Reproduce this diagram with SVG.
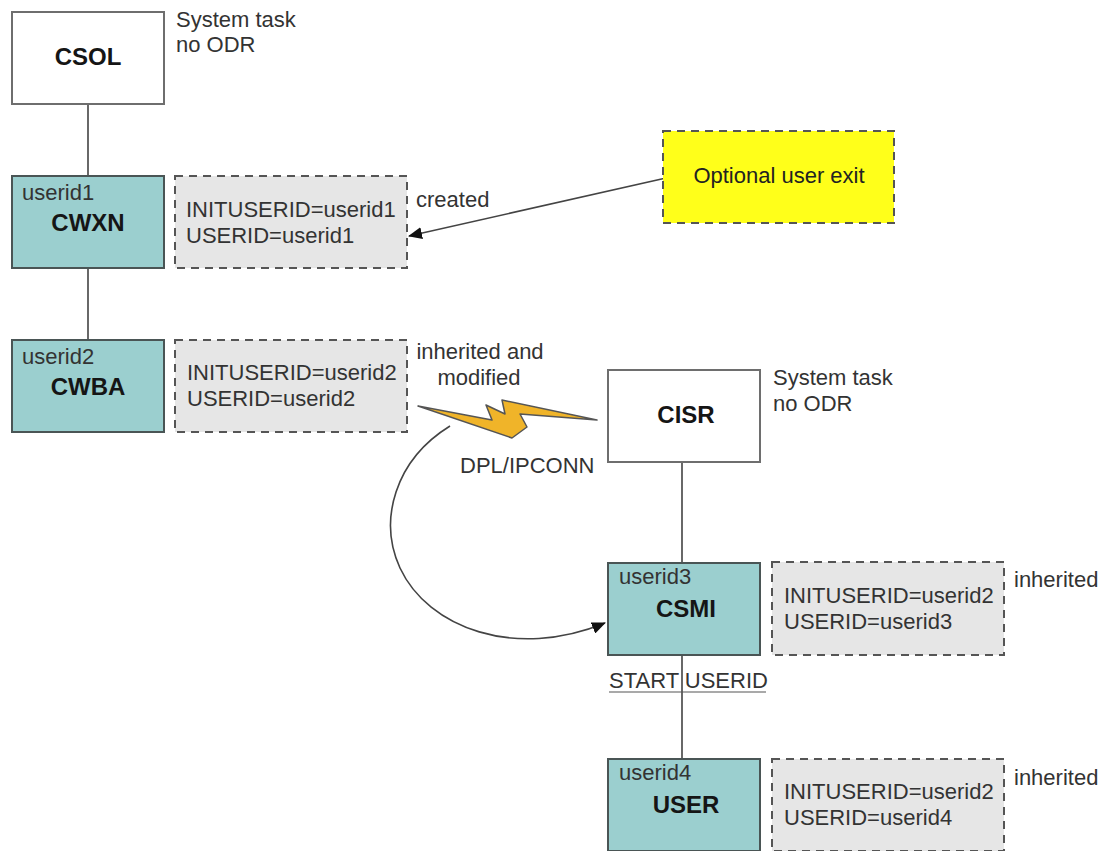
<svg xmlns="http://www.w3.org/2000/svg" width="1103" height="851" viewBox="0 0 1103 851">
<style>
text{font-family:"Liberation Sans",Arial,sans-serif;font-size:22px;fill:#333}
.t{font-weight:bold;font-size:24px;fill:#151515;text-anchor:middle}
.w{fill:#fff;stroke:#6e6e6e;stroke-width:2}
.c{fill:#9bcfcf;stroke:#4a5555;stroke-width:2}
.d{fill:#e6e6e6;stroke:#555;stroke-width:2;stroke-dasharray:8 6}
.l{fill:none;stroke:#444;stroke-width:1.6}
.m{text-anchor:middle}
</style>
<defs>
<marker id="a" markerWidth="14" markerHeight="12" refX="13" refY="6" orient="auto" markerUnits="userSpaceOnUse"><path d="M0 0L14 6L0 12Z" fill="#111"/></marker>
</defs>
<rect width="1103" height="851" fill="#fff"/>
<g id="connectors">
<path class="l" d="M88 104V176M88 268V340M682 462V562M682 655V759"/>
<path class="l" d="M666 178L409 236" marker-end="url(#a)"/>
<path class="l" d="M450 426C395 460 378 520 400 568C428 628 515 660 605 623" marker-end="url(#a)"/>
<path d="M609 692H766" fill="none" stroke="#555" stroke-width="1.2"/>
</g>
<g id="bolt"><path d="M418 406L492 420L486 405L505 414L502 400L597 420L520 414L527 427L512 438Z" fill="#f0b429" stroke="#555" stroke-width="1.5" stroke-linejoin="round"/></g>
<g id="CSOL"><rect class="w" x="12" y="12" width="152" height="92"/><text class="t" x="88" y="65">CSOL</text><text x="176" y="27">System task</text><text x="176" y="52">no ODR</text></g>
<g id="CWXN"><rect class="c" x="12" y="176" width="152" height="92"/><text x="22" y="200">userid1</text><text class="t" x="88" y="231">CWXN</text></g>
<g id="CWXN-info"><rect class="d" x="175" y="176" width="232" height="92"/><text x="186" y="217">INITUSERID=userid1</text><text x="186" y="243">USERID=userid1</text></g>
<g id="exit"><rect x="663" y="131" width="231" height="92" fill="#ffff1a" stroke="#555" stroke-width="2" stroke-dasharray="8 6"/><text class="m" x="779" y="183" style="fill:#222">Optional user exit</text></g>
<text x="416" y="207">created</text>
<g id="CWBA"><rect class="c" x="12" y="340" width="152" height="92"/><text x="22" y="364">userid2</text><text class="t" x="88" y="395">CWBA</text></g>
<g id="CWBA-info"><rect class="d" x="175" y="340" width="232" height="92"/><text x="187" y="380">INITUSERID=userid2</text><text x="187" y="406">USERID=userid2</text></g>
<text class="m" x="480" y="359">inherited and</text>
<text class="m" x="479" y="385">modified</text>
<text x="460" y="473">DPL/IPCONN</text>
<g id="CISR"><rect class="w" x="608" y="370" width="152" height="92"/><text class="t" x="686" y="423">CISR</text><text x="773" y="385">System task</text><text x="773" y="411">no ODR</text></g>
<g id="CSMI"><rect class="c" x="608" y="563" width="152" height="92"/><text x="619" y="584">userid3</text><text class="t" x="686" y="617">CSMI</text></g>
<g id="CSMI-info"><rect class="d" x="772" y="562" width="232" height="93"/><text x="784" y="603">INITUSERID=userid2</text><text x="784" y="629">USERID=userid3</text><text x="1014" y="587">inherited</text></g>
<text x="609" y="688">START USERID</text>
<g id="USER"><rect class="c" x="608" y="759" width="152" height="92"/><text x="619" y="780">userid4</text><text class="t" x="686" y="813">USER</text></g>
<g id="USER-info"><rect class="d" x="772" y="759" width="232" height="92"/><text x="784" y="799">INITUSERID=userid2</text><text x="784" y="825">USERID=userid4</text><text x="1014" y="785">inherited</text></g>
</svg>
